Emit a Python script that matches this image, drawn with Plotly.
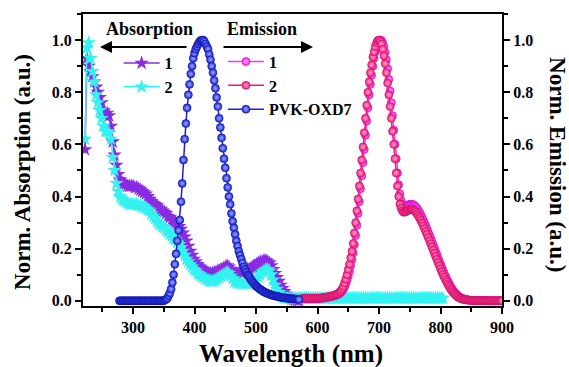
import plotly.graph_objects as go

# ---------------- data ----------------
abs_wl_1 = list(range(222, 571, 3))
abs_1 = [
    0.58, 0.93, 0.90, 0.88, 0.86, 0.84, 0.82, 0.80, 0.78, 0.76,
    0.73, 0.71, 0.72, 0.71, 0.67, 0.61, 0.56, 0.52, 0.485, 0.465,
    0.455, 0.45, 0.445, 0.44, 0.44, 0.44, 0.44, 0.435, 0.435, 0.43,
    0.425, 0.42, 0.415, 0.41, 0.40, 0.39, 0.38, 0.375, 0.37, 0.365,
    0.355, 0.35, 0.345, 0.34, 0.335, 0.325, 0.32, 0.31, 0.305, 0.30,
    0.295, 0.285, 0.275, 0.26, 0.245, 0.23, 0.21, 0.19, 0.175, 0.16,
    0.15, 0.14, 0.13, 0.125, 0.12, 0.115, 0.11, 0.105, 0.105, 0.105,
    0.11, 0.11, 0.115, 0.115, 0.12, 0.125, 0.13, 0.135, 0.13, 0.12,
    0.11, 0.105, 0.105, 0.105, 0.11, 0.11, 0.115, 0.115, 0.12, 0.12,
    0.125, 0.13, 0.135, 0.14, 0.145, 0.15, 0.15, 0.155, 0.155, 0.15,
    0.145, 0.135, 0.12, 0.105, 0.09, 0.075, 0.06, 0.048, 0.036, 0.026,
    0.018, 0.012, 0.008, 0.005, 0.003, 0.002, 0.001,
]

abs_wl_2 = list(range(222, 805, 3))
abs_2 = [
    0.62, 0.97, 0.99, 0.93, 0.88, 0.84, 0.79, 0.76, 0.73, 0.70,
    0.67, 0.65, 0.65, 0.645, 0.62, 0.55, 0.50, 0.45, 0.42, 0.40,
    0.39, 0.385, 0.38, 0.375, 0.37, 0.37, 0.37, 0.37, 0.37, 0.365,
    0.365, 0.36, 0.36, 0.355, 0.35, 0.345, 0.335, 0.325, 0.315, 0.305,
    0.295, 0.29, 0.285, 0.28, 0.27, 0.265, 0.255, 0.25, 0.24, 0.235,
    0.225, 0.215, 0.205, 0.19, 0.175, 0.16, 0.15, 0.14, 0.13, 0.12,
    0.115, 0.105, 0.10, 0.095, 0.09, 0.085, 0.08, 0.078, 0.076, 0.075,
    0.077, 0.08, 0.085, 0.09, 0.095, 0.10, 0.105, 0.11, 0.105, 0.095,
    0.085, 0.075, 0.07, 0.068, 0.067, 0.066, 0.066, 0.066, 0.066, 0.067,
    0.068, 0.07, 0.075, 0.08, 0.09, 0.10, 0.11, 0.115, 0.12, 0.12,
    0.115, 0.10, 0.08, 0.06, 0.045, 0.032, 0.022, 0.015, 0.012, 0.01,
    0.01, 0.01, 0.01, 0.01, 0.01, 0.01, 0.01, 0.01, 0.01, 0.01,
    0.01, 0.01, 0.01, 0.01, 0.01, 0.01, 0.01, 0.01, 0.01, 0.01,
    0.01, 0.01, 0.01, 0.01, 0.01, 0.01, 0.01, 0.01, 0.01, 0.01,
    0.01, 0.01, 0.01, 0.01, 0.01, 0.01, 0.01, 0.01, 0.01, 0.01,
    0.01, 0.01, 0.01, 0.01, 0.01, 0.01, 0.01, 0.01, 0.01, 0.01,
    0.01, 0.01, 0.01, 0.01, 0.01, 0.01, 0.01, 0.01, 0.01, 0.01,
    0.01, 0.01, 0.01, 0.01, 0.01, 0.01, 0.01, 0.01, 0.01, 0.01,
    0.01, 0.01, 0.01, 0.01, 0.01, 0.01, 0.01, 0.01, 0.01, 0.01,
    0.01, 0.01, 0.01, 0.01, 0.01,
]

pvk_wl = list(range(278, 571, 2))
pvk = [
    0, 0, 0, 0, 0, 0, 0, 0, 0, 0,
    0, 0, 0, 0, 0, 0, 0, 0, 0, 0,
    0, 0, 0, 0, 0, 0, 0, 0, 0, 0,
    0, 0, 0, 0, 0, 0, 0, 0.003, 0.006, 0.01,
    0.02, 0.03, 0.045, 0.07, 0.10, 0.14, 0.18, 0.23, 0.27, 0.31,
    0.38, 0.45, 0.54, 0.62, 0.68, 0.74, 0.79, 0.83, 0.87, 0.90,
    0.93, 0.95, 0.965, 0.975, 0.985, 0.993, 0.998, 1.0, 1.0, 0.995,
    0.985, 0.975, 0.965, 0.945, 0.925, 0.90, 0.875, 0.845, 0.815, 0.78,
    0.745, 0.70, 0.665, 0.625, 0.585, 0.545, 0.51, 0.47, 0.435, 0.40,
    0.37, 0.335, 0.305, 0.28, 0.255, 0.23, 0.21, 0.19, 0.175, 0.16,
    0.145, 0.13, 0.12, 0.11, 0.10, 0.095, 0.088, 0.08, 0.074, 0.068,
    0.062, 0.057, 0.053, 0.049, 0.045, 0.042, 0.039, 0.036, 0.033, 0.031,
    0.029, 0.027, 0.025, 0.023, 0.022, 0.02, 0.019, 0.018, 0.017, 0.016,
    0.015, 0.014, 0.013, 0.012, 0.012, 0.011, 0.010, 0.010, 0.009, 0.009,
    0.008, 0.008, 0.007, 0.007, 0.006, 0.006, 0.005,
]

em_wl = list(range(576, 901, 2))
em_1 = [
    0.008, 0.008, 0.008, 0.008, 0.008, 0.008, 0.008, 0.008, 0.008, 0.008,
    0.008, 0.008, 0.008, 0.009, 0.009, 0.01, 0.01, 0.011, 0.011, 0.012,
    0.013, 0.014, 0.015, 0.016, 0.017, 0.018, 0.019, 0.021, 0.023, 0.025,
    0.028, 0.032, 0.037, 0.044, 0.053, 0.065, 0.079, 0.095, 0.113, 0.134,
    0.157, 0.183, 0.215, 0.25, 0.29, 0.335, 0.38, 0.43, 0.48, 0.53,
    0.58, 0.635, 0.69, 0.74, 0.79, 0.83, 0.865, 0.90, 0.93, 0.955,
    0.972, 0.986, 0.995, 1.0, 0.998, 0.99, 0.975, 0.953, 0.925, 0.89,
    0.85, 0.805, 0.76, 0.71, 0.655, 0.60, 0.545, 0.49, 0.445, 0.41,
    0.385, 0.37, 0.362, 0.36, 0.362, 0.365, 0.368, 0.37, 0.37, 0.37,
    0.368, 0.365, 0.36, 0.354, 0.347, 0.339, 0.33, 0.32, 0.31, 0.299,
    0.288, 0.276, 0.264, 0.252, 0.24, 0.228, 0.216, 0.203, 0.19, 0.178,
    0.165, 0.153, 0.141, 0.129, 0.117, 0.106, 0.095, 0.085, 0.075, 0.066,
    0.057, 0.049, 0.042, 0.035, 0.029, 0.024, 0.02, 0.016, 0.013, 0.011,
    0.009, 0.007, 0.006, 0.005, 0.004, 0.003, 0.003, 0.002, 0.002, 0.002,
    0.001, 0.001, 0.001, 0.001, 0.001, 0.001, 0.001, 0.001, 0.001, 0.001,
    0, 0, 0, 0, 0, 0, 0, 0, 0, 0,
    0, 0, 0,
]
em_2 = [
    0.01, 0.01, 0.01, 0.01, 0.01, 0.01, 0.01, 0.01, 0.01, 0.01,
    0.01, 0.01, 0.01, 0.01, 0.01, 0.011, 0.012, 0.012, 0.013, 0.014,
    0.015, 0.016, 0.017, 0.018, 0.019, 0.02, 0.022, 0.024, 0.026, 0.029,
    0.033, 0.038, 0.045, 0.055, 0.068, 0.083, 0.10, 0.12, 0.14, 0.165,
    0.19, 0.22, 0.26, 0.30, 0.345, 0.39, 0.44, 0.49, 0.54, 0.59,
    0.645, 0.70, 0.75, 0.80, 0.84, 0.875, 0.905, 0.935, 0.955, 0.975,
    0.99, 0.998, 1.0, 0.995, 0.985, 0.965, 0.94, 0.91, 0.875, 0.835,
    0.79, 0.745, 0.70, 0.65, 0.60, 0.545, 0.49, 0.44, 0.40, 0.37,
    0.355, 0.345, 0.34, 0.34, 0.342, 0.345, 0.348, 0.35, 0.35, 0.35,
    0.348, 0.345, 0.34, 0.333, 0.325, 0.317, 0.308, 0.298, 0.288, 0.277,
    0.266, 0.255, 0.243, 0.231, 0.219, 0.207, 0.195, 0.183, 0.171, 0.159,
    0.147, 0.135, 0.123, 0.112, 0.101, 0.091, 0.081, 0.072, 0.063, 0.055,
    0.047, 0.04, 0.034, 0.028, 0.023, 0.019, 0.015, 0.012, 0.01, 0.008,
    0.006, 0.005, 0.004, 0.003, 0.003, 0.002, 0.002, 0.001, 0.001, 0.001,
    0, 0, 0, 0, 0, 0, 0, 0, 0, 0,
    0, 0, 0, 0, 0, 0, 0, 0, 0, 0,
    0, 0, 0,
]

x_ticks = [300, 400, 500, 600, 700, 800, 900]
y_ticks = [0.0, 0.2, 0.4, 0.6, 0.8, 1.0]

assert len(abs_wl_1) == len(abs_1)
assert len(abs_wl_2) == len(abs_2)
assert len(pvk_wl) == len(pvk)
assert len(em_wl) == len(em_1) == len(em_2)

FONT = "Liberation Serif"

fig = go.Figure()

fig.add_trace(go.Scatter(
    x=abs_wl_1, y=abs_1, name="1", mode="lines+markers", legend="legend",
    line=dict(color="#8a2be2", width=1.5),
    marker=dict(symbol="star", size=11, color="#8a2be2", line=dict(width=0)),
))
fig.add_trace(go.Scatter(
    x=abs_wl_2, y=abs_2, name="2", mode="lines+markers", legend="legend",
    line=dict(color="#33f2f2", width=1.5),
    marker=dict(symbol="star", size=11, color="#33f2f2", line=dict(width=0)),
))
fig.add_trace(go.Scatter(
    x=em_wl, y=em_1, name="1", mode="lines+markers", legend="legend2",
    line=dict(color="#ff33ee", width=1.5),
    marker=dict(symbol="circle", size=8, color="#f21fe0",
                gradient=dict(type="radial", color="#ffb0f5"),
                line=dict(width=0.6, color="#d010c0")),
))
fig.add_trace(go.Scatter(
    x=em_wl, y=em_2, name="2", mode="lines+markers", legend="legend2",
    line=dict(color="#f0187f", width=1.5),
    marker=dict(symbol="circle", size=8, color="#f0187f",
                gradient=dict(type="radial", color="#ffa8cc"),
                line=dict(width=0.6, color="#c8105f")),
))
fig.add_trace(go.Scatter(
    x=pvk_wl, y=pvk, name="PVK-OXD7", mode="lines+markers", legend="legend2",
    line=dict(color="#1a22d8", width=1.5),
    marker=dict(symbol="circle", size=8, color="#1a22d8",
                gradient=dict(type="radial", color="#a0acff"),
                line=dict(width=0.6, color="#0c12a0")),
))
# invisible trace to activate the right-hand axis
fig.add_trace(go.Scatter(x=[600], y=[0], yaxis="y2", mode="markers",
                         marker=dict(opacity=0), showlegend=False, hoverinfo="skip"))

tickfont = dict(family=FONT, size=16, color="black", weight="bold")
axis_common = dict(
    showline=True, linewidth=2, linecolor="black", showgrid=False, zeroline=False,
    ticks="outside", ticklen=6, tickwidth=2, tickcolor="black", tickfont=tickfont,
    automargin=False,
)
minor_common = dict(ticks="outside", ticklen=4, tickwidth=2, tickcolor="black")

legend_font = dict(family=FONT, size=16, color="black", weight="bold")

fig.update_layout(
    width=569, height=367,
    margin=dict(l=83, r=67, t=14, b=61),
    paper_bgcolor="white", plot_bgcolor="white",
    showlegend=True,
    xaxis=dict(range=[218.7, 900], tickvals=x_ticks, mirror=True,
               minor=dict(dtick=50, tick0=250, **minor_common),
               **axis_common),
    yaxis=dict(range=[-0.02, 1.1], tickvals=y_ticks, tickformat=".1f",
               minor=dict(dtick=0.1, tick0=0.1, **minor_common),
               **axis_common),
    yaxis2=dict(range=[-0.02, 1.1], tickvals=y_ticks, tickformat=".1f",
                overlaying="y", side="right", anchor="x",
                minor=dict(dtick=0.1, tick0=0.1, **minor_common),
                **axis_common),
    legend=dict(x=0.085, y=0.89, xanchor="left", yanchor="top",
                bgcolor="rgba(0,0,0,0)", itemwidth=36, font=legend_font),
    legend2=dict(x=0.334, y=0.895, xanchor="left", yanchor="top",
                 bgcolor="rgba(0,0,0,0)", itemwidth=36, font=legend_font),
)

title_font = dict(family=FONT, size=23, color="black", weight="bold")
head_font = dict(family=FONT, size=18, color="black", weight="bold")
annotations = [
    dict(text="Norm. Absorption (a.u.)", xref="paper", yref="paper",
         x=-0.145, y=0.46, textangle=-90, showarrow=False, font=title_font,
         xanchor="center", yanchor="middle"),
    dict(text="Norm. Emission (a.u.)", xref="paper", yref="paper",
         x=1.131, y=0.483, textangle=90, showarrow=False, font=title_font,
         xanchor="center", yanchor="middle"),
    dict(text="Wavelength (nm)", xref="paper", yref="paper",
         x=0.496, y=-0.11, showarrow=False,
         font=dict(family=FONT, size=25, color="black", weight="bold"),
         xanchor="center", yanchor="top"),
    dict(text="Absorption", xref="paper", yref="paper", x=0.158, y=0.949,
         showarrow=False, font=head_font, xanchor="center", yanchor="middle"),
    dict(text="Emission", xref="paper", yref="paper", x=0.427, y=0.949,
         showarrow=False, font=head_font, xanchor="center", yanchor="middle"),
    dict(text="", xref="paper", yref="paper", x=0.0406, y=0.887,
         ax=88, ay=0, showarrow=True, arrowhead=2, arrowsize=1.2,
         arrowwidth=2, arrowcolor="black"),
    dict(text="", xref="paper", yref="paper", x=0.549, y=0.887,
         ax=-91, ay=0, showarrow=True, arrowhead=2, arrowsize=1.2,
         arrowwidth=2, arrowcolor="black"),
]
fig.update_layout(annotations=annotations)

fig.write_html("out.html", config={"displayModeBar": False},
               post_script="document.body.style.margin='0';document.body.style.overflow='hidden';")
